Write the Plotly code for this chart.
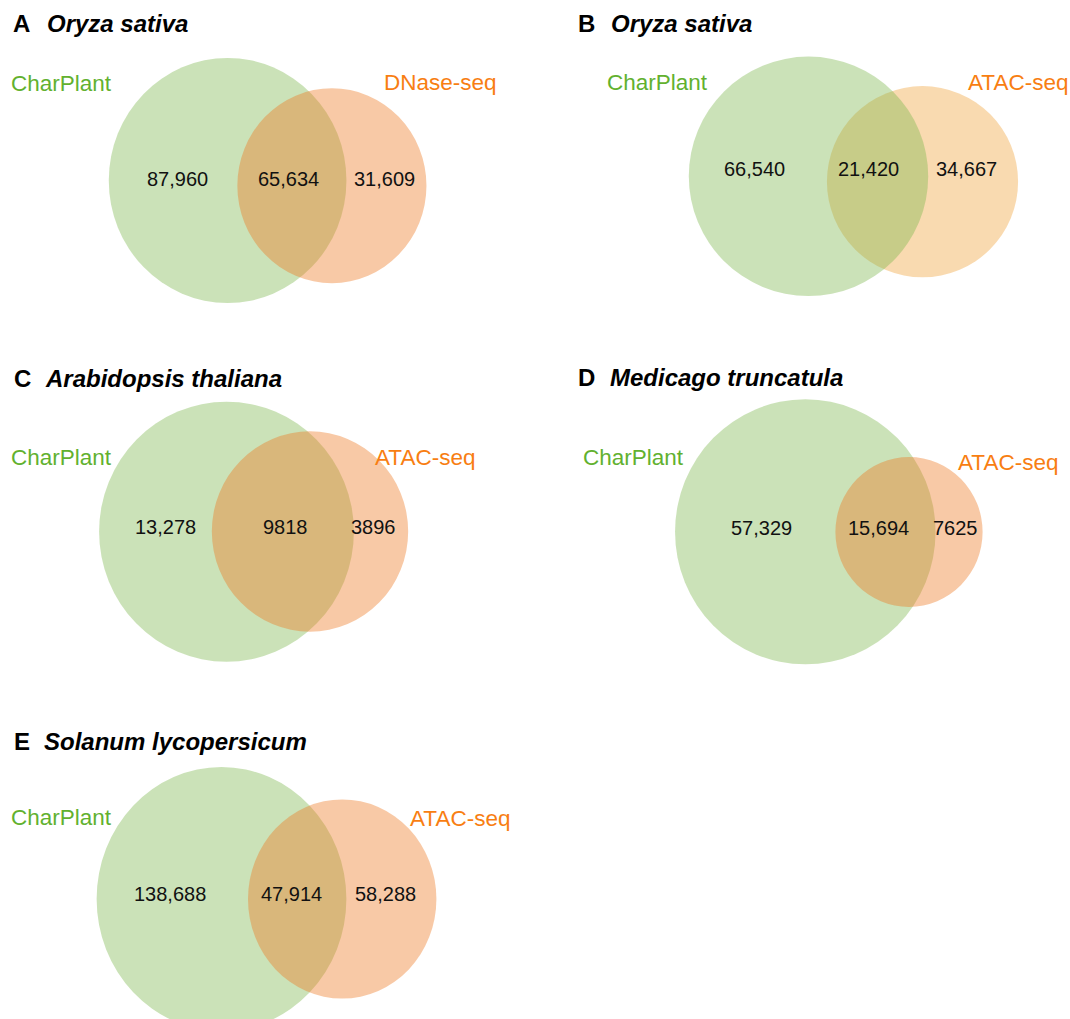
import math
import plotly.graph_objects as go

# ---------------- data ----------------
PANEL_LETTERS = ["A", "B", "C", "D", "E"]
SPECIES = ["Oryza sativa", "Oryza sativa", "Arabidopsis thaliana",
           "Medicago truncatula", "Solanum lycopersicum"]
LEFT_SET = ["CharPlant", "CharPlant", "CharPlant", "CharPlant", "CharPlant"]
RIGHT_SET = ["DNase-seq", "ATAC-seq", "ATAC-seq", "ATAC-seq", "ATAC-seq"]
ONLY_LEFT = [87960, 66540, 13278, 57329, 138688]
BOTH = [65634, 21420, 9818, 15694, 47914]
ONLY_RIGHT = [31609, 34667, 3896, 7625, 58288]

# ---------------- layout (pixel space) ----------------
W, H = 1070, 1019
FONT = "Liberation Sans, Arial, sans-serif"
GREEN_FILL = "rgba(125,182,78,0.4)"
ORANGE_FILL = ["rgba(238,120,33,0.4)", "rgba(240,162,57,0.4)", "rgba(238,120,33,0.4)",
               "rgba(238,120,33,0.4)", "rgba(238,120,33,0.4)"]
GREEN_ON_TOP = [False, True, False, False, False]
LEFT_LABEL_COLOR = "#62B12F"
RIGHT_LABEL_COLOR = "#F87E12"

# big-circle centre, its vertical radius (scale), x-aspect, small-circle centre
GREEN_C = [(227.6, 180.5), (808.5, 176.3), (226.5, 531.7), (805.3, 531.8), (221.5, 899.0)]
GREEN_R = [122.5, 119.7, 130.0, 132.5, 132.0]
X_ASPECT = [0.97, 1.0, 0.98, 0.983, 0.946]
RIGHT_C = [(331.9, 185.7), (922.5, 181.7), (310.0, 531.5), (909.0, 532.0), (342.2, 899.0)]

TITLE_POS = [(12.7, 46.7, 31.7), (578.3, 610.7, 31.7), (13.7, 45.4, 386.4),
             (578.3, 610.0, 385.7), (13.7, 44.4, 749.8)]  # letter x, species x, baseline
LEFT_LABEL_POS = [(11.0, 91.0), (607.3, 90.7), (11.3, 464.9), (583.3, 465.7), (11.3, 825.0)]
RIGHT_LABEL_POS = [(384.0, 90.0), (968.3, 90.7), (375.4, 465.0), (958.3, 470.0), (409.6, 826.0)]
NUM_Y = [179.0, 169.3, 527.0, 527.7, 894.0]
NUM_X = [(177.8, 288.7, 384.0), (754.5, 868.3, 966.2), (165.0, 285.8, 373.8),
         (761.5, 878.8, 955.0), (170.3, 291.0, 385.7)]

TITLE_SIZE = 24
LABEL_SIZE = 22.5
NUM_SIZE = 20


def fmt(v):
    return f"{v:,}" if v >= 10000 else str(v)


def center_from_baseline(baseline, size):
    return baseline - 0.3465 * size


shapes = []
annotations = []


def ellipse(cx, cy, ry, asp, fill):
    rx = ry * asp
    return dict(type="circle", xref="x", yref="y", x0=cx - rx, x1=cx + rx,
                y0=cy - ry, y1=cy + ry, fillcolor=fill, line=dict(width=0), layer="above")


def add_text(x, y, text, size, color, xanchor="left", bold=False, italic=False):
    t = text
    if italic:
        t = f"<i>{t}</i>"
    if bold:
        t = f"<b>{t}</b>"
    annotations.append(dict(x=x, y=y, xref="x", yref="y", text=t, showarrow=False,
                            xanchor=xanchor, yanchor="middle", borderpad=0, borderwidth=0,
                            font=dict(family=FONT, size=size, color=color)))


for i in range(len(PANEL_LETTERS)):
    left_total = ONLY_LEFT[i] + BOTH[i]
    right_total = ONLY_RIGHT[i] + BOTH[i]
    rg = GREEN_R[i]
    ro = rg * math.sqrt(right_total / left_total)  # area-proportional circles
    g = ellipse(GREEN_C[i][0], GREEN_C[i][1], rg, X_ASPECT[i], GREEN_FILL)
    o = ellipse(RIGHT_C[i][0], RIGHT_C[i][1], ro, X_ASPECT[i], ORANGE_FILL[i])
    shapes.extend([o, g] if GREEN_ON_TOP[i] else [g, o])

    lx, sx, bl = TITLE_POS[i]
    cy = center_from_baseline(bl, TITLE_SIZE)
    add_text(lx, cy, PANEL_LETTERS[i], TITLE_SIZE, "#000000", bold=True)
    add_text(sx, cy, SPECIES[i], TITLE_SIZE, "#000000", bold=True, italic=True)

    x, b = LEFT_LABEL_POS[i]
    add_text(x, center_from_baseline(b, LABEL_SIZE), LEFT_SET[i], LABEL_SIZE, LEFT_LABEL_COLOR)
    x, b = RIGHT_LABEL_POS[i]
    add_text(x, center_from_baseline(b, LABEL_SIZE), RIGHT_SET[i], LABEL_SIZE, RIGHT_LABEL_COLOR)

    for xv, v in zip(NUM_X[i], (ONLY_LEFT[i], BOTH[i], ONLY_RIGHT[i])):
        add_text(xv, NUM_Y[i], fmt(v), NUM_SIZE, "#111111", xanchor="center")

fig = go.Figure()
fig.update_layout(
    width=W, height=H, autosize=False,
    margin=dict(l=0, r=0, t=0, b=0, pad=0),
    paper_bgcolor="white", plot_bgcolor="white",
    xaxis=dict(range=[0, W], visible=False, fixedrange=True),
    yaxis=dict(range=[H, 0], visible=False, fixedrange=True),
    shapes=shapes, annotations=annotations, showlegend=False,
)
fig.write_html("out.html", config={"displayModeBar": False})
